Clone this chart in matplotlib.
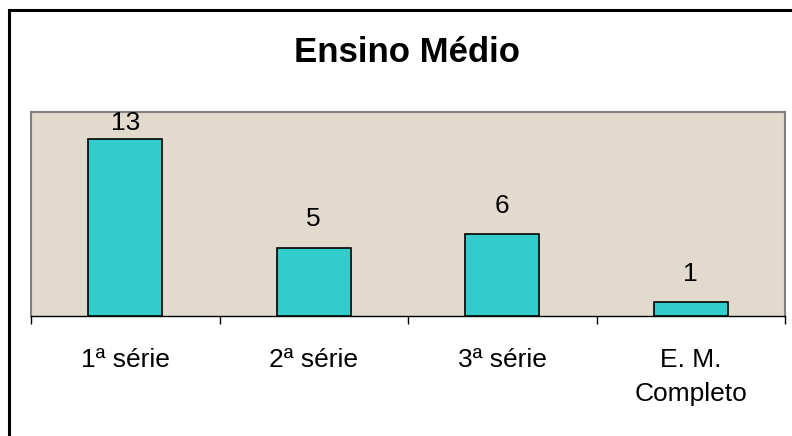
import matplotlib
matplotlib.use("Agg")
import matplotlib.pyplot as plt
from matplotlib.lines import Line2D

### Data ###################################################################
categories = [ "1ª série", "2ª série", "3ª série", "E. M.\nCompleto" ]
values = [ 13, 5, 6, 1 ]
title = "Ensino Médio"

plt.rcParams[ "font.family" ] = [ "Liberation Sans", "DejaVu Sans" ]

fig = plt.figure( figsize=(7.92, 4.36), dpi=100 )
fig.patch.set_facecolor( "white" )

# chart border (only top and left are inside the picture)
fig.add_artist( Line2D( [ 9/792, 1.0 ], [ 1 - 10/436 ] * 2, color="black", lw=2.2,
                        transform=fig.transFigure ) )
fig.add_artist( Line2D( [ 9/792 ] * 2, [ 0.0, 1 - 10/436 ], color="black", lw=2.2,
                        transform=fig.transFigure ) )

ax = fig.add_axes( [ 31/792, 120/436, 754/792, 204/436 ] )
ax.set_facecolor( "#e2dacd" )

ymax = 15
x = range( len( categories ) )
bars = ax.bar( x, values, width=0.39, color="#33cccc", edgecolor="black",
               linewidth=1.2, zorder=3 )

# value labels; the tallest one is squeezed against the top of the plot area
for i, v in zip( x, values ):
    pad = 3 if v > ymax - 3 else 12
    ax.annotate( str( v ), ( i, v ), ha="center", va="bottom",
                 fontsize=19, xytext=( 0, pad ), textcoords="offset points" )

ax.set_xlim( -0.5, len( categories ) - 0.5 )
ax.set_ylim( 0, ymax )
ax.set_yticks( [] )

# labels at centres, tick marks between categories
ax.set_xticks( list( x ) )
ax.set_xticklabels( categories, fontsize=19, linespacing=1.55 )
ax.tick_params( axis="x", which="major", length=0, pad=23 )
ax.set_xticks( [ i - 0.5 for i in range( len( categories ) + 1 ) ], minor=True )
ax.tick_params( axis="x", which="minor", length=6, width=1, direction="out",
                color="black" )

for side in [ "top", "left", "right" ]:
    ax.spines[ side ].set_color( "#808080" )
    ax.spines[ side ].set_linewidth( 1.5 )
ax.spines[ "bottom" ].set_color( "black" )
ax.spines[ "bottom" ].set_linewidth( 1 )

fig.text( 407/792, 1 - 52/436, title, fontsize=25, fontweight="bold",
          ha="center", va="center" )

fig.savefig( "out.png", dpi=100 )
